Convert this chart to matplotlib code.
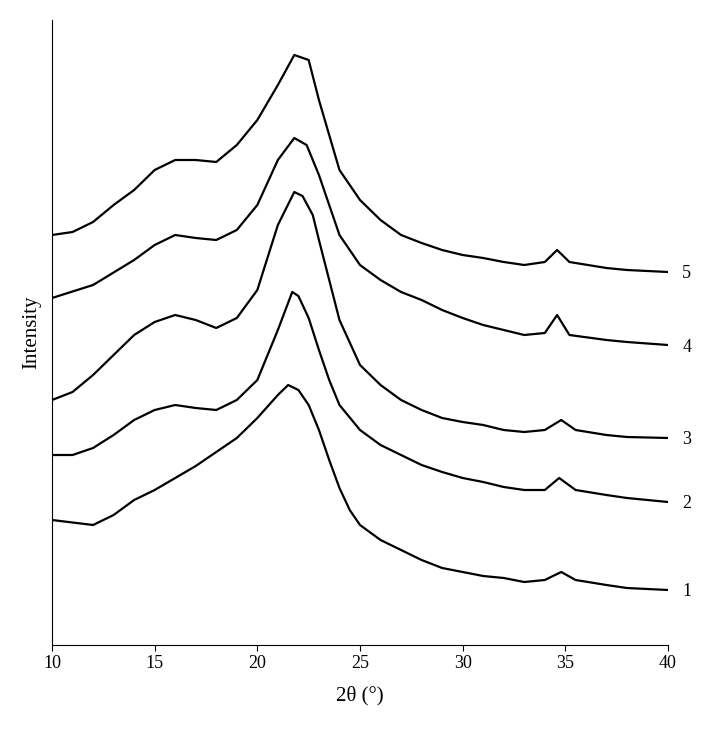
import matplotlib
matplotlib.use("Agg")
import matplotlib.pyplot as plt
import numpy as np

plt.rcParams['font.family'] = ['Liberation Serif', 'DejaVu Serif']

x1 = [10,12,13,14,15,16,17,18,19,20,21,21.5,22,22.5,23,23.5,24,24.5,25,26,27,28,29,30,31,32,33,34,34.8,35.5,37,38,40]
p1 = [520,525,515,500,490,478,466,452,438,418,395,385,390,405,430,460,488,510,525,540,550,560,568,572,576,578,582,580,572,580,585,588,590]
x2 = [10,11,12,13,14,15,16,17,18,19,20,21,21.7,22,22.5,23,23.5,24,25,26,27,28,29,30,31,32,33,34,34.7,35.5,37,38,40]
p2 = [455,455,448,435,420,410,405,408,410,400,380,330,292,296,318,350,380,405,430,445,455,465,472,478,482,487,490,490,478,490,495,498,502]
x3 = [10,11,12,13,14,15,16,17,18,19,20,21,21.8,22.2,22.7,23,23.5,24,25,26,27,28,29,30,31,32,33,34,34.8,35.5,37,38,40]
p3 = [400,392,375,355,335,322,315,320,328,318,290,225,192,196,215,240,280,320,365,385,400,410,418,422,425,430,432,430,420,430,435,437,438]
x4 = [10,12,14,15,16,17,18,19,20,21,21.8,22.4,23,23.5,24,25,26,27,28,29,30,31,32,33,34,34.6,35.2,37,38,40]
p4 = [298,285,260,245,235,238,240,230,205,160,138,145,175,205,235,265,280,292,300,310,318,325,330,335,333,315,335,340,342,345]
x5 = [10,11,12,13,14,15,16,17,18,19,20,21,21.8,22.5,23,23.5,24,25,26,27,28,29,30,31,32,33,34,34.6,35.2,37,38,40]
p5 = [235,232,222,205,190,170,160,160,162,145,120,85,55,60,100,135,170,200,220,235,243,250,255,258,262,265,262,250,262,268,270,272]
labels = ["1","2","3","4","5"]

fig = plt.figure(figsize=(7.05, 7.32), dpi=100)
ax = fig.add_axes([52/705, 87/732, 616/705, 625/732])
series = [(x1,p1),(x2,p2),(x3,p3),(x4,p4),(x5,p5)]
for (xs, ps), lab in zip(series, labels):
    ys = 645 - np.array(ps)
    ax.plot(xs, ys, color='black', lw=1.6)
    ax.text(40.7, ys[-1] - 2, lab, fontsize=13, va='center', ha='left')

ax.set_xlim(10, 40)
ax.set_ylim(0, 625)
ax.set_xticks([10,15,20,25,30,35,40])
ax.set_yticks([])
ax.tick_params(axis='x', labelsize=13, direction='out', length=4)
for s in ['top','right']:
    ax.spines[s].set_visible(False)
ax.set_xlabel('2θ (°)', fontsize=15, labelpad=10)
ax.set_ylabel('Intensity', fontsize=15, labelpad=8)
fig.savefig('out.png', dpi=100)
